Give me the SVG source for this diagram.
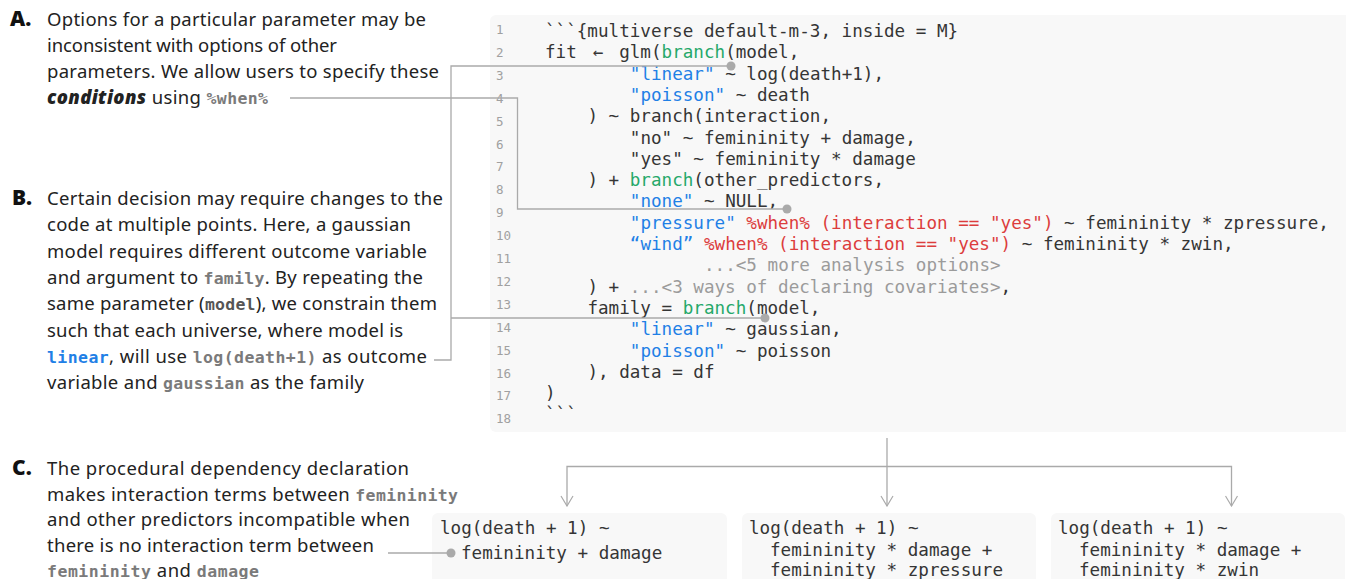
<svg xmlns="http://www.w3.org/2000/svg" width="1346" height="579" viewBox="0 0 1346 579">
<style>
.p{font-family:"Noto Sans",Lato,sans-serif;font-size:18.5px;fill:#222}
.lbl{font-family:"Noto Sans",Lato,sans-serif;font-size:21px;font-weight:900;fill:#111}
.ic{font-family:"DejaVu Sans Mono","Liberation Mono",monospace;font-size:16.5px;font-weight:bold;fill:#7a7a7a}
.code{font-family:"DejaVu Sans Mono","Liberation Mono",monospace;font-size:17.6px;fill:#353535}
.ln{font-family:"DejaVu Sans Mono","Liberation Mono",monospace;font-size:12.5px;fill:#a0a0a0}
.g{fill:#26a86a}.b{fill:#1f80e6}.r{fill:#dc3d3d}.c{fill:#9b9b9b}
.bg{fill:#f8f8f8}
.con{fill:none;stroke:#aaaaaa;stroke-width:1.3}
.dot{fill:#aaaaaa}
</style>
<defs>
<marker id="arr" markerWidth="14" markerHeight="12" refX="7" refY="11" orient="0" markerUnits="userSpaceOnUse">
<path d="M1,1 L7,11 L13,1" fill="none" stroke="#aaaaaa" stroke-width="1.2"/>
</marker>
</defs>

<g id="para-A">
<text class="lbl" x="10" y="26">A.</text>
<text class="p" x="47" y="26" textLength="379" lengthAdjust="spacing">Options for a particular parameter may be</text>
<text class="p" x="47" y="52" textLength="290" lengthAdjust="spacing">inconsistent with options of other</text>
<text class="p" x="47" y="78" textLength="392" lengthAdjust="spacing">parameters. We allow users to specify these</text>
<text class="p" x="47" y="104" textLength="221" lengthAdjust="spacing"><tspan font-weight="900" font-style="italic">conditions</tspan> using <tspan class="ic">%when%</tspan></text>
</g>

<g id="para-B">
<text class="lbl" x="12" y="205">B.</text>
<text class="p" x="47" y="205" textLength="396" lengthAdjust="spacing">Certain decision may require changes to the</text>
<text class="p" x="47" y="231.3" textLength="364" lengthAdjust="spacing">code at multiple points. Here, a gaussian</text>
<text class="p" x="47" y="257.6" textLength="380" lengthAdjust="spacing">model requires different outcome variable</text>
<text class="p" x="47" y="283.9" textLength="376" lengthAdjust="spacing">and argument to <tspan class="ic">family</tspan>. By repeating the</text>
<text class="p" x="47" y="310.2" textLength="390" lengthAdjust="spacing">same parameter (<tspan class="ic" style="fill:#555">model</tspan>), we constrain them</text>
<text class="p" x="47" y="336.5" textLength="356" lengthAdjust="spacing">such that each universe, where model is</text>
<text class="p" x="47" y="362.8" textLength="380" lengthAdjust="spacing"><tspan class="ic" style="fill:#1f80e6">linear</tspan>, will use <tspan class="ic">log(death+1)</tspan> as outcome</text>
<text class="p" x="47" y="389.1" textLength="317" lengthAdjust="spacing">variable and <tspan class="ic">gaussian</tspan> as the family</text>
</g>

<g id="para-C">
<text class="lbl" x="12" y="475">C.</text>
<text class="p" x="47" y="475" textLength="362" lengthAdjust="spacing">The procedural dependency declaration</text>
<text class="p" x="47" y="500.5" textLength="411" lengthAdjust="spacing">makes interaction terms between <tspan class="ic">femininity</tspan></text>
<text class="p" x="47" y="526" textLength="363" lengthAdjust="spacing">and other predictors incompatible when</text>
<text class="p" x="47" y="551.5" textLength="327" lengthAdjust="spacing">there is no interaction term between</text>
<text class="p" x="47" y="576.5" textLength="212" lengthAdjust="spacing"><tspan class="ic">femininity</tspan> and <tspan class="ic">damage</tspan></text>
</g>

<g id="code-block">
<rect class="bg" x="490" y="15" width="862" height="417" rx="6"/>
<g class="ln">
<text x="496" y="34">1</text>
<text x="496" y="56.9">2</text>
<text x="496" y="79.8">3</text>
<text x="496" y="102.7">4</text>
<text x="496" y="125.6">5</text>
<text x="496" y="148.5">6</text>
<text x="496" y="171.4">7</text>
<text x="496" y="194.3">8</text>
<text x="496" y="217.2">9</text>
<text x="496" y="240.1">10</text>
<text x="496" y="263">11</text>
<text x="496" y="285.9">12</text>
<text x="496" y="308.8">13</text>
<text x="496" y="331.7">14</text>
<text x="496" y="354.6">15</text>
<text x="496" y="377.5">16</text>
<text x="496" y="400.4">17</text>
<text x="496" y="423.3">18</text>
</g>
<g class="code">
<text x="545" y="37">```{multiverse default-m-3, inside = M}</text>
<text x="545" y="58.3">fit<tspan x="592.7">←</tspan><tspan x="619.2">glm(</tspan><tspan class="g">branch</tspan>(model,</text>
<text x="629.8" y="79.6"><tspan class="b">"linear"</tspan> ~ log(death+1),</text>
<text x="629.8" y="100.9"><tspan class="b">"poisson"</tspan> ~ death</text>
<text x="587.4" y="122.2">) ~ branch(interaction,</text>
<text x="629.8" y="143.5">"no" ~ femininity + damage,</text>
<text x="629.8" y="164.8">"yes" ~ femininity * damage</text>
<text x="587.4" y="186.1">) + <tspan class="g">branch</tspan>(other_predictors,</text>
<text x="629.8" y="207.4"><tspan class="b">"none"</tspan> ~ NULL,</text>
<text x="629.8" y="228.7"><tspan class="b">"pressure"</tspan><tspan class="r"> %when% (interaction == "yes")</tspan> ~ femininity * zpressure,</text>
<text x="629.8" y="250"><tspan class="b">“wind”</tspan><tspan class="r"> %when% (interaction == "yes")</tspan> ~ femininity * zwin,</text>
<text x="704" y="271.3" class="c">...&lt;5 more analysis options&gt;</text>
<text x="587.4" y="292.6">) + <tspan class="c">...&lt;3 ways of declaring covariates&gt;</tspan>,</text>
<text x="587.4" y="313.9">family = <tspan class="g">branch</tspan>(model,</text>
<text x="629.8" y="335.2"><tspan class="b">"linear"</tspan> ~ gaussian,</text>
<text x="629.8" y="356.5"><tspan class="b">"poisson"</tspan> ~ poisson</text>
<text x="587.4" y="377.8">), data = df</text>
<text x="545" y="399.1">)</text>
<text x="545" y="420.4">```</text>
</g>
</g>

<g id="result-1">
<rect class="bg" x="432" y="513" width="295" height="80" rx="6"/>
<text class="code" x="440" y="534">log(death + 1) ~</text>
<text class="code" x="461" y="559">femininity + damage</text>
</g>
<g id="result-2">
<rect class="bg" x="742" y="513" width="294" height="80" rx="6"/>
<text class="code" x="749" y="534">log(death + 1) ~</text>
<text class="code" x="770" y="555.5">femininity * damage +</text>
<text class="code" x="770" y="576">femininity * zpressure</text>
</g>
<g id="result-3">
<rect class="bg" x="1051" y="513" width="294" height="80" rx="6"/>
<text class="code" x="1058" y="534">log(death + 1) ~</text>
<text class="code" x="1079" y="555.5">femininity * damage +</text>
<text class="code" x="1079" y="576">femininity * zwin</text>
</g>

<g id="connectors">
<polyline class="con" points="290,98 517.5,98 517.5,209 787,209"/>
<circle class="dot" cx="787" cy="209" r="4.5"/>
<polyline class="con" points="434,360 451,360 451,66 731,66"/>
<line class="con" x1="451" y1="318" x2="765" y2="318"/>
<circle class="dot" cx="731" cy="66" r="4.5"/>
<circle class="dot" cx="765" cy="318" r="4.5"/>
<line class="con" x1="388" y1="553" x2="451" y2="553"/>
<circle class="dot" cx="451" cy="553" r="4.5"/>
<line class="con" x1="887" y1="438" x2="887" y2="506" marker-end="url(#arr)"/>
<polyline class="con" points="567,506 567,466.5 1231.5,466.5 1231.5,506" marker-start="url(#arr)" marker-end="url(#arr)"/>
</g>
</svg>
